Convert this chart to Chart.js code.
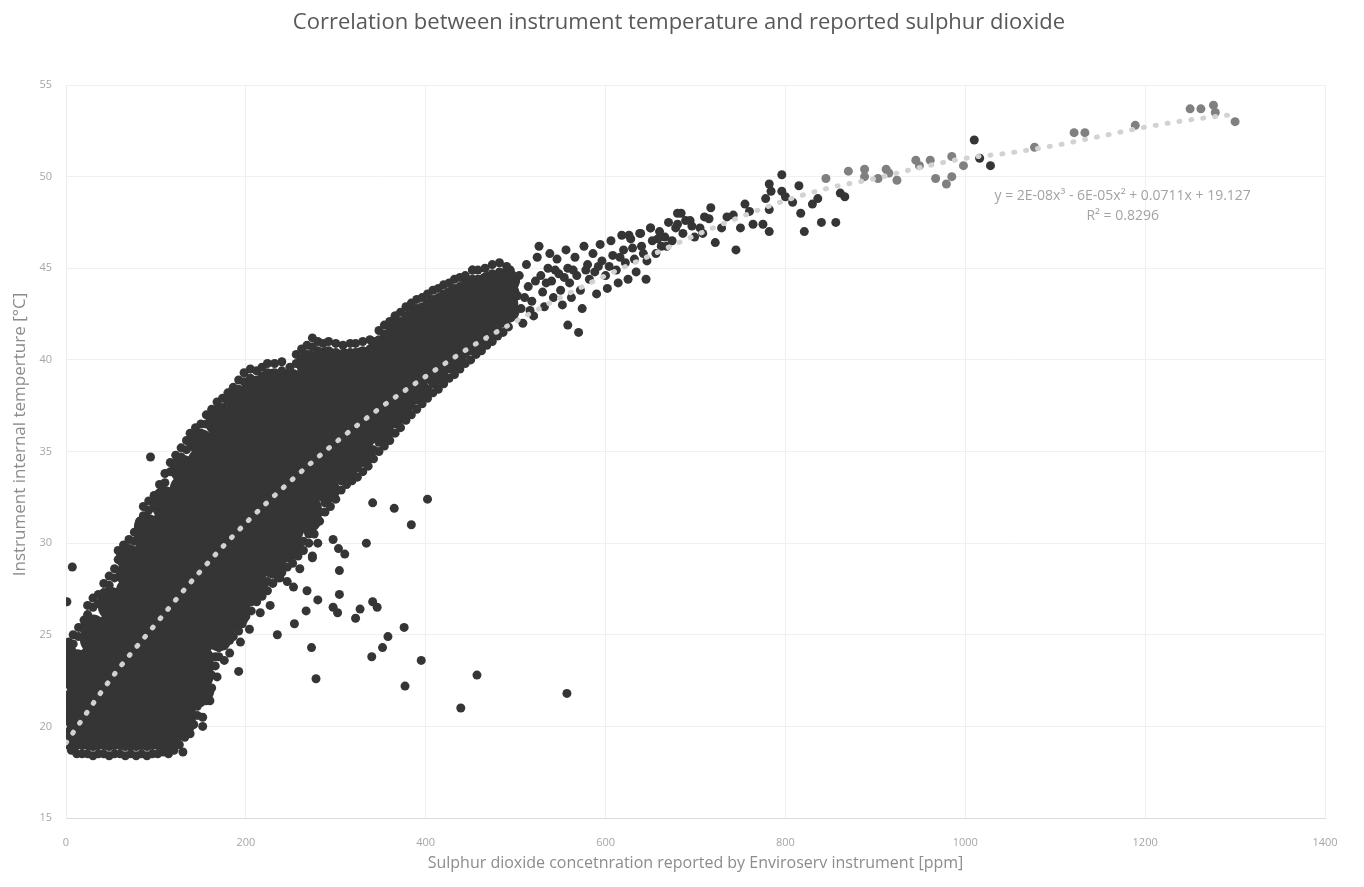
<!DOCTYPE html>
<html>
<head>
<meta charset="utf-8">
<script src="https://cdn.jsdelivr.net/npm/chart.js@4.4.1/dist/chart.umd.min.js"></script>
<style>
  html, body { margin: 0; padding: 0; background: #fff; }
  #wrap { width: 1364px; height: 887px; }
</style>
</head>
<body>
<div id="wrap"><canvas id="so2Chart"></canvas></div>
<script>
// polynomial trend line as it appears on the picture
const trendX = [0, 50, 100, 150, 200, 250, 300, 350, 400, 450, 500, 550, 600, 650, 700, 750, 800, 850, 900, 950, 1000, 1050, 1100, 1150, 1200, 1250, 1300];
const trendY = [19.1, 22.6, 25.6, 28.5, 31.1, 33.4, 35.5, 37.4, 39.1, 40.7, 42.1, 43.4, 44.6, 45.7, 46.8, 47.8, 48.7, 49.4, 49.9, 50.5, 51.0, 51.3, 51.7, 52.2, 52.7, 53.1, 53.4];

// solid body of the cloud: one column of readings per SO2 value
const coreCols = [12, 30, 50, 70, 90, 110, 130, 150, 170, 190, 210, 230, 250, 270, 290, 310, 330, 350, 370, 390, 410, 430, 450, 470, 490];
const coreRows = [
    [19.5, 20.5, 21.5, 22.5, 23.5],
    [19.4, 20.2, 21.1, 22, 22.9, 23.8, 24.7, 25.4],
    [19.5, 20.5, 21.5, 22.5, 23.5, 24.5, 25.5, 26.5, 26.9],
    [19.4, 20.2, 21.1, 22, 22.9, 23.8, 24.7, 25.6, 26.5, 27.4, 28.3, 29.2],
    [19.5, 20.5, 21.5, 22.5, 23.5, 24.5, 25.5, 26.5, 27.5, 28.5, 29.5, 30.5, 30.9],
    [19.4, 20.3, 21.2, 22.1, 23, 23.9, 24.8, 25.7, 26.6, 27.5, 28.4, 29.3, 30.2, 31.1, 32, 32.4],
    [20.2, 21, 22, 23, 24, 25, 26, 27, 28, 29, 30, 31, 32, 33, 34, 34.1],
    [21.9, 22.8, 23.7, 24.6, 25.5, 26.4, 27.3, 28.2, 29.1, 30, 30.9, 31.8, 32.7, 33.6, 34.5, 35.5],
    [24.8, 25.5, 26.5, 27.5, 28.5, 29.5, 30.5, 31.5, 32.5, 33.5, 34.5, 35.5, 36.5, 36.8],
    [26.1, 27, 28, 29, 30, 31, 32, 33, 34, 35, 36, 37, 37.9],
    [27.6, 28.5, 29.5, 30.5, 31.5, 32.5, 33.5, 34.5, 35.5, 36.5, 37.5, 38.4],
    [28.8, 29.6, 30.5, 31.4, 32.3, 33.2, 34.1, 35, 35.9, 36.8, 37.7, 38.8],
    [29.8, 30.7, 31.6, 32.5, 33.4, 34.3, 35.2, 36.1, 37, 37.9, 38.8],
    [31.3, 31.9, 32.8, 33.7, 34.6, 35.5, 36.4, 37.3, 38.2, 39.1, 39.8],
    [32.9, 33.8, 34.7, 35.6, 36.5, 37.4, 38.3, 39.2, 40],
    [34.1, 35, 35.9, 36.8, 37.7, 38.6, 39.5, 39.9],
    [34.9, 35.8, 36.7, 37.6, 38.5, 39.4, 40],
    [36.1, 37, 37.9, 38.8, 39.7, 40.6],
    [37.2, 38.1, 39, 39.9, 40.8, 41.5],
    [38.3, 39.2, 40.1, 41, 41.9, 42.3],
    [39.3, 40.2, 41.1, 42, 42.8],
    [40.1, 41, 41.9, 42.8, 43.3],
    [41, 41.9, 42.8, 43.8],
    [41.8, 42.7, 43.6, 44.1],
    [42.7, 43.6, 44.3]
];

// left side of the cloud, at 0 ppm and just right of it
const leftEdgeY = [19, 19.6, 20.3, 21, 21.7, 22.4, 23.1, 23.8, 24.3];
const leftInnerY = [19.3, 20, 20.7, 21.4, 22.1, 22.8, 23.5, 24.2];

// upper edge of the cloud: [ppm, outer reading, inner reading]
const upperEdge = [
    [3, 24.6, 24.2], [8, 25, 24.5], [14, 25.4, 24.9], [20, 25.8, 25.3], [24, 26.6, 26.1], [30, 27, 26.5], [36, 27.2, 26.7], [42, 27.8, 27.3],
    [48, 28.2, 27.7], [54, 28.6, 28.1], [58, 29.6, 29.1], [64, 29.9, 29.4], [70, 30.2, 29.7], [76, 30.6, 30.1], [82, 31.2, 30.7], [86, 32, 31.5],
    [92, 32.3, 31.8], [98, 32.6, 32.1], [104, 33.2, 32.7], [110, 33.8, 33.3], [116, 34.4, 33.9], [122, 34.8, 34.3], [128, 35.2, 34.7], [134, 35.6, 35.1],
    [138, 36, 35.5], [144, 36.3, 35.8], [150, 36.5, 36], [156, 37, 36.5], [162, 37.3, 36.8], [168, 37.7, 37.2], [174, 37.9, 37.4], [180, 38.2, 37.7],
    [186, 38.5, 38], [192, 38.9, 38.4], [198, 39.3, 38.8], [205, 39.5, 39], [212, 39.4, 38.9], [218, 39.6, 39.1], [224, 39.8, 39.3], [232, 39.8, 39.3],
    [240, 39.9, 39.4], [249, 39.6, 39.1], [256, 40.3, 39.8], [262, 40.6, 40.1], [268, 40.8, 40.3], [274, 41.2, 40.7], [280, 41, 40.5], [286, 40.9, 40.4],
    [292, 41, 40.5], [300, 40.9, 40.4], [308, 40.8, 40.3], [316, 40.9, 40.4], [322, 40.9, 40.4], [330, 41, 40.5], [338, 41.1, 40.6], [342, 41, 40.5],
    [348, 41.6, 41.1], [354, 41.9, 41.4], [360, 42.1, 41.6], [366, 42.4, 41.9], [372, 42.6, 42.1], [378, 42.9, 42.4], [384, 43.1, 42.6], [390, 43.3, 42.8],
    [396, 43.4, 42.9], [402, 43.6, 43.1], [408, 43.8, 43.3], [414, 43.9, 43.4], [420, 44.1, 43.6], [426, 44.2, 43.7], [432, 44.4, 43.9], [438, 44.5, 44],
    [444, 44.6, 44.1], [452, 44.9, 44.4], [458, 44.9, 44.4], [466, 45, 44.5], [474, 45.2, 44.7], [482, 45.3, 44.8]
];

// lower edge of the cloud: [ppm, outer reading, inner reading]
const lowerEdge = [
    [6, 18.7, 19.1], [12, 18.5, 18.95], [18, 18.5, 18.95], [24, 18.5, 18.95], [30, 18.4, 18.9], [36, 18.5, 18.95], [42, 18.5, 18.95], [48, 18.4, 18.9],
    [54, 18.5, 18.95], [60, 18.5, 18.95], [66, 18.4, 18.9], [72, 18.5, 18.95], [78, 18.4, 18.9], [84, 18.5, 18.95], [90, 18.4, 18.9], [96, 18.5, 18.95],
    [102, 18.5, 18.95], [108, 18.6, 19.05], [114, 18.5, 18.95], [120, 18.7, 19.15], [126, 19, 19.45], [132, 19.4, 19.85], [138, 19.6, 20.1], [142, 20.1, 20.6],
    [146, 20.6, 21.1], [150, 21.3, 21.8], [152, 20, 20.5], [156, 21.8, 22.3], [158, 22.5, 23], [160, 21.4, 21.9], [162, 22.8, 23.3], [166, 23.3, 23.8],
    [170, 23.8, 24.3], [176, 24.4, 24.9], [182, 24.7, 25.2], [186, 24.9, 25.4], [192, 25.2, 25.7], [196, 25.6, 26.1], [200, 26, 26.5], [206, 26.3, 26.8],
    [212, 26.8, 27.3], [218, 27.1, 27.6], [224, 27.4, 27.9], [230, 27.8, 28.3], [236, 28.1, 28.6], [240, 28.4, 28.9], [246, 28.7, 29.2], [252, 28.9, 29.4],
    [258, 29.3, 29.8], [264, 29.6, 30.1], [270, 30, 30.5], [276, 30.5, 31], [282, 31.2, 31.7], [288, 31.7, 32.2], [294, 32, 32.5], [300, 32.4, 32.9],
    [306, 32.9, 33.4], [312, 33.2, 33.7], [318, 33.4, 33.9], [324, 33.6, 34.1], [330, 33.9, 34.4], [336, 34.2, 34.7], [342, 34.6, 35.1], [348, 35, 35.5],
    [354, 35.3, 35.8], [360, 35.6, 36.1], [366, 36, 36.5], [372, 36.3, 36.8], [378, 36.7, 37.2], [384, 37, 37.5], [390, 37.3, 37.8], [396, 37.6, 38.1],
    [402, 37.9, 38.4], [408, 38.2, 38.7], [414, 38.4, 38.9], [420, 38.7, 39.2], [426, 39, 39.5], [432, 39.2, 39.7], [438, 39.5, 40], [444, 39.8, 40.3],
    [450, 40, 40.5], [456, 40.3, 40.8], [462, 40.5, 41], [468, 40.8, 41.3], [474, 41, 41.5], [480, 41.3, 41.8], [486, 41.5, 42], [492, 41.8, 42.3]
];

// clumps hanging under the lower edge
const lowerClumps = [
    [216, 26.2], [227, 26.6], [238, 28.1], [253, 27.6], [268, 27.4], [280, 26.9], [268, 30.7], [280, 30], [274, 29.2],
    [156, 21.4], [162, 22.1], [168, 22.7], [176, 23.6], [182, 24], [194, 24.6], [204, 25.3], [246, 27.9], [260, 28.6]
];

// thinner band above 490 ppm
const bandPts = [
    [494, 44.9], [500, 44.3], [502, 43.5], [506, 42.8], [508, 42], [512, 45.2], [514, 44], [518, 43.2], [520, 42.4], [524, 45.6],
    [528, 44.6], [530, 43.7], [532, 42.9], [536, 45], [540, 44.3], [542, 43.4], [546, 45.5], [548, 44.7], [550, 43.8], [552, 43],
    [556, 46], [558, 45], [560, 44.2], [562, 43.4], [566, 45.6], [568, 44.6], [572, 43.8], [574, 42.8], [576, 46.2], [580, 45.2],
    [582, 44.4], [586, 45.8], [588, 44.8], [590, 43.6], [594, 46.3], [596, 45.4], [600, 44.6], [602, 43.9], [606, 46.5], [608, 45.7],
    [612, 44.9], [614, 44.2], [618, 46.8], [620, 46], [622, 45.3], [625, 44.4], [628, 46.6], [632, 45.5], [634, 44.8], [638, 46.9],
    [640, 46.2], [645, 44.4], [646, 45.4], [650, 47.2], [652, 46.5], [656, 45.8], [660, 47], [662, 46.2], [666, 46.7], [670, 47.5],
    [674, 46.5], [678, 47.2], [680, 48], [680, 47.4], [684, 48], [689, 47.6], [694, 47.6], [699, 46.7], [705, 47.2], [710, 47.8],
    [715, 47.7], [717, 48.3], [722, 46.4], [729, 47.2], [735, 47.8], [742, 47.9], [745, 46], [750, 47.2], [755, 48.5], [760, 48.1],
    [764, 47.4], [775, 47.4], [778, 48.8], [782, 48.2], [782, 47], [782, 49.6], [784, 49.2], [796, 50.1], [796, 49.2], [800, 48.9],
    [808, 48.6], [815, 49.5], [817, 48], [821, 47], [830, 48.5], [836, 48.8], [840, 47.5], [856, 47.5], [861, 49.1], [866, 48.9],
    [526, 46.2], [538, 45.8], [558, 41.9], [570, 41.5], [452, 44.9], [464, 44.4], [490, 45.1], [626, 46.8], [639, 46.9], [650, 47.2],
    [498, 43.1], [504, 44.6], [510, 43.4], [516, 42.7], [522, 44.3], [534, 44.2], [544, 44.9], [554, 44.5], [564, 44.9], [578, 44.9],
    [592, 45.1], [604, 45.1], [616, 45.6], [630, 46.1], [642, 45.8], [658, 46.6], [668, 46.2], [686, 46.9], [696, 47.3], [708, 46.9],
    [1010, 52], [1016, 51], [1028, 50.6]
];

// isolated readings away from the cloud
const strayPts = [
    [1, 26.8], [7, 28.7], [94, 34.7], [130, 18.6], [192, 23], [235, 25], [254, 25.6], [267, 26.3], [273, 24.3], [278, 22.6],
    [274, 29.3], [297, 30.2], [303, 29.7], [310, 29.4], [304, 28.5], [304, 27.2], [297, 26.5], [302, 26.2], [322, 25.9], [327, 26.4],
    [334, 30], [341, 32.2], [365, 31.9], [384, 31], [402, 32.4], [341, 26.8], [346, 26.5], [340, 23.8], [352, 24.3], [358, 24.9],
    [376, 25.4], [377, 22.2], [395, 23.6], [439, 21], [457, 22.8], [557, 21.8], [366, 42.4], [396, 42.4], [433, 43.4], [447, 43.7],
    [458, 43.9]
];

// paler readings at the top end
const palePts = [
    [845, 49.9], [870, 50.3], [888, 50.4], [888, 50], [903, 49.9], [912, 50.4], [915, 50.2], [924, 49.8], [945, 50.9], [949, 50.6],
    [961, 50.9], [967, 49.9], [979, 49.6], [985, 50], [985, 51.1], [998, 50.6], [1077, 51.6], [1121, 52.4], [1133, 52.4], [1189, 52.8],
    [1250, 53.7], [1262, 53.7], [1276, 53.9], [1278, 53.5], [1300, 53]
];

const eqnLines = ['y = 2E-08x\u00b3 - 6E-05x\u00b2 + 0.0711x + 19.127', 'R\u00b2 = 0.8296'];
const eqnAt = [1175, 48.95];

const toXY = pairs => pairs.map(p => ({ x: p[0], y: p[1] }));

const corePoints = [];
coreCols.forEach((cx, i) => {
    coreRows[i].forEach(cy => corePoints.push({ x: cx, y: cy }));
});

const darkPoints = [];
leftEdgeY.forEach(y => darkPoints.push({ x: 0, y: y }));
leftInnerY.forEach(y => darkPoints.push({ x: 6, y: y }));
upperEdge.concat(lowerEdge).forEach(e => {
    darkPoints.push({ x: e[0], y: e[1] });
    darkPoints.push({ x: e[0], y: e[2] });
});
toXY(lowerClumps.concat(bandPts, strayPts)).forEach(p => darkPoints.push(p));

const trendPoints = trendX.map((tx, i) => ({ x: tx, y: trendY[i] }));

const eqnLabel = {
    id: 'eqnLabel',
    afterDatasetsDraw(chart) {
        const { ctx, scales } = chart;
        const px = scales.x.getPixelForValue(eqnAt[0]);
        const py = scales.y.getPixelForValue(eqnAt[1]);
        ctx.save();
        ctx.font = '14px "Open Sans"';
        ctx.fillStyle = '#a3a3a3';
        ctx.textAlign = 'center';
        ctx.textBaseline = 'middle';
        eqnLines.forEach((line, i) => ctx.fillText(line, px, py + i * 20));
        ctx.restore();
    }
};

const axisGray = '#a6a6a6';

new Chart(document.getElementById('so2Chart'), {
    type: 'scatter',
    data: {
        datasets: [
            {
                type: 'line',
                label: 'Poly. trend',
                data: trendPoints,
                borderColor: '#d2d2d2',
                borderWidth: 5,
                borderDash: [1, 11],
                borderCapStyle: 'round',
                cubicInterpolationMode: 'monotone',
                pointRadius: 0,
                fill: false,
                order: 0
            },
            {
                label: 'Pale readings',
                data: toXY(palePts),
                backgroundColor: '#808080',
                borderWidth: 0,
                pointRadius: 4.5,
                order: 1
            },
            {
                label: 'Readings',
                data: darkPoints,
                backgroundColor: '#353535',
                borderWidth: 0,
                pointRadius: 4.5,
                order: 2
            },
            {
                label: 'Readings (dense)',
                data: corePoints,
                backgroundColor: '#353535',
                borderWidth: 0,
                pointRadius: 13,
                order: 3
            }
        ]
    },
    options: {
        responsive: true,
        maintainAspectRatio: false,
        animation: false,
        events: [],
        layout: { padding: { left: 0, right: 39, top: 0, bottom: 0 } },
        plugins: {
            legend: { display: false },
            tooltip: { enabled: false },
            title: {
                display: true,
                // leading spaces nudge the centred title right, as in the original
                text: '\u2003\u2002Correlation between instrument temperature and reported sulphur dioxide',
                color: '#595959',
                font: { family: 'Open Sans', size: 22, weight: 'normal' },
                padding: { top: 10, bottom: 48.6 }
            }
        },
        scales: {
            x: {
                type: 'linear',
                min: 0,
                max: 1400,
                afterFit: scale => { scale.height = 69; },
                ticks: {
                    stepSize: 200,
                    padding: 18,
                    color: axisGray,
                    font: { family: 'Open Sans', size: 11 },
                    callback: v => String(v)
                },
                grid: { color: '#f0f0f0', drawTicks: false },
                border: { color: '#dcdcdc' },
                title: {
                    display: true,
                    text: 'Sulphur dioxide concetnration reported by Enviroserv instrument [ppm]',
                    color: '#8c8c8c',
                    font: { family: 'Open Sans', size: 16 },
                    padding: { top: 0, bottom: 14.4 }
                }
            },
            y: {
                type: 'linear',
                min: 15,
                max: 55,
                afterFit: scale => { scale.width = 66; },
                ticks: {
                    stepSize: 5,
                    padding: 14,
                    color: axisGray,
                    font: { family: 'Open Sans', size: 11 }
                },
                grid: { color: '#f0f0f0', drawTicks: false },
                border: { color: '#ececec' },
                title: {
                    display: true,
                    text: '\u2003\u2003Instrument internal temperture [\u00b0C]',
                    color: '#8c8c8c',
                    font: { family: 'Open Sans', size: 17 },
                    padding: { top: 9.8, bottom: 0 }
                }
            }
        }
    },
    plugins: [eqnLabel]
});
</script>
</body>
</html>
